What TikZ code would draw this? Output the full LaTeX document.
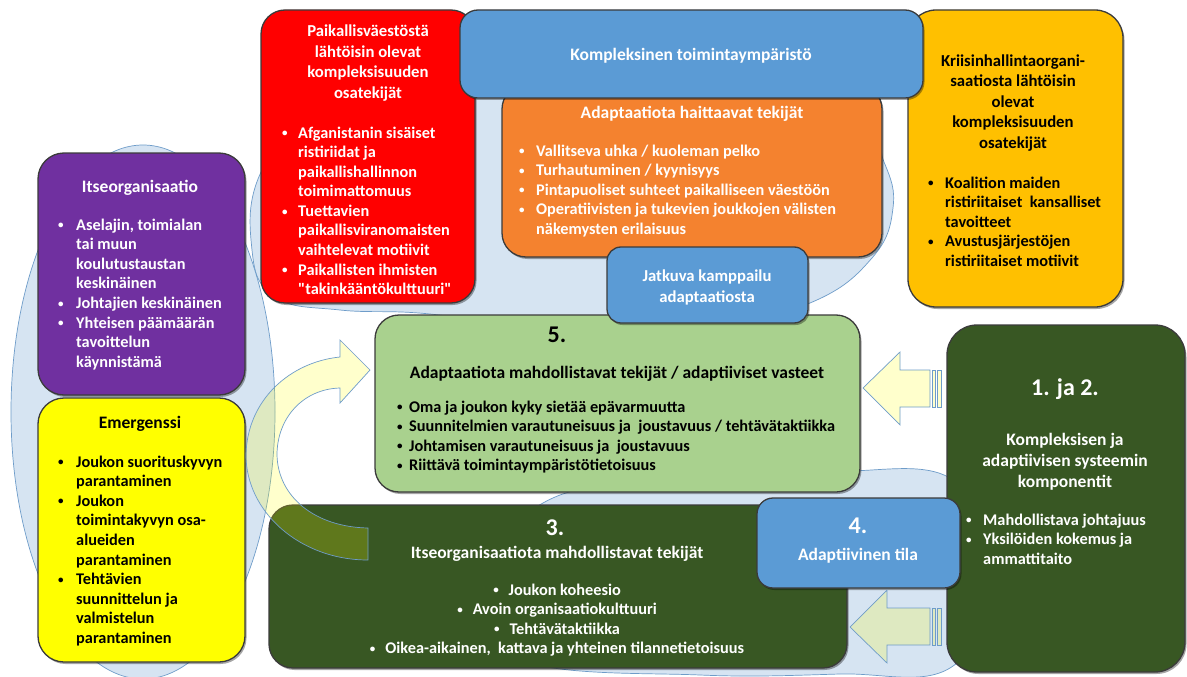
\documentclass[tikz,border=0pt]{standalone}
\usepackage{fontspec}
\setmainfont{Carlito}
\newfontfamily\nolig{Carlito}[Ligatures=ResetAll]
\usetikzlibrary{fit,shadows}
\definecolor{cred}{HTML}{FF0000}
\definecolor{cblue}{HTML}{5B9BD5}
\definecolor{corange}{HTML}{F4822F}
\definecolor{cgold}{HTML}{FFC000}
\definecolor{cpurple}{HTML}{7030A0}
\definecolor{cyellow}{HTML}{FFFF00}
\definecolor{clgreen}{HTML}{A9D18E}
\definecolor{cdgreen}{HTML}{385723}
\definecolor{cbg}{HTML}{D6E4F2}
\definecolor{cbgline}{HTML}{6E9CC9}
\definecolor{cboxline}{HTML}{3B3B3B}
\newcommand\sbul{\raisebox{1.3pt}{\fontsize{11}{11}\selectfont\textbullet}}
\newcommand\bu[1]{\makebox[#1][l]{\sbul}}
\newcommand\dq{{\nolig\char34}}
\tikzset{
  box/.style={draw=cboxline, line width=1.3pt, rounded corners=#1, inner sep=0pt,
     drop shadow={shadow xshift=1.5pt, shadow yshift=-2pt, opacity=0.35, fill=black}},
  box/.default=24pt,
  bgshape/.style={fill=cbg, draw=cbgline, line width=0.7pt},
  arrowshape/.style={fill=cyellow, fill opacity=0.2, draw=cbgline, line width=0.7pt},
  body/.style={inner sep=0pt, font=\bfseries\fontsize{16.3}{19.6}\selectfont},
  ttl/.style={inner sep=0pt, font=\bfseries\fontsize{17.5}{20.5}\selectfont},
  ttls/.style={inner sep=0pt, font=\bfseries\fontsize{16.7}{20.5}\selectfont},
  num/.style={inner sep=0pt, font=\bfseries\fontsize{24}{28}\selectfont},
}
\begin{document}
\begin{tikzpicture}[x=1pt,y=-1pt]
\useasboundingbox (0,0) rectangle (1187,677);
\fill[white] (0,0) rectangle (1187,677);
% background shapes
\draw[bgshape] plot[smooth cycle, tension=0.7] coordinates {(252,250) (275,297) (340,310) (430,314) (560,332) (700,330) (810,303) (872,258) (893,208) (884,162) (855,115) (700,40) (500,40) (330,90) (262,170)};
\draw[bgshape] plot[smooth cycle, tension=0.6] coordinates {(543,503) (620,484) (720,473) (840,471) (950,478) (1010,570) (950,668) (840,674) (700,675) (520,660) (450,580)};
\draw[bgshape] (143,412) ellipse [x radius=132pt, y radius=267pt];
% boxes
\node[box=24pt, fill=cred, fit={(261,10) (475,303)}] (red) {};
\node[box=28pt, fill=cgold, fit={(908,10) (1123,307)}] (gold) {};
\node[box=24pt, fill=corange, fit={(502,85) (882,257)}] (orange) {};
\node[box=18pt, fill=cblue, fit={(460,10) (923,98)}] (top) {};
\node[box=26pt, fill=cpurple, fit={(38,153) (245,395)}] (purple) {};
\node[box=26pt, fill=cyellow, fit={(38,398) (245,662)}] (yellow) {};
\node[box=24pt, fill=clgreen, fit={(375,315) (860,492)}] (five) {};
\node[box=14pt, fill=cblue, fit={(607,247) (808,323)}] (jatkuva) {};
\node[box=24pt, fill=cdgreen, fit={(269,505) (847,668)}] (three) {};
\node[box=30pt, fill=cdgreen, fit={(947,325) (1185,672)}] (onetwo) {};
\node[box=16pt, fill=cblue, fit={(757,498) (960,588)}] (four) {};
% arrows
\draw[arrowshape] (370,370) -- (340,340) -- (340,357) .. controls (290,362) and (247,400) .. (246,455) .. controls (246,512) and (300,560) .. (368,560) -- (368,528) .. controls (315,527) and (278,497) .. (277,455) .. controls (277,418) and (303,389) .. (340,388) -- (340,403) -- cycle;
\draw[arrowshape] (863,388) -- (900,352) -- (900,370) -- (930,370) -- (930,407) -- (900,407) -- (900,425) -- cycle;
\draw[arrowshape] (932,370) rectangle (935,407);
\draw[arrowshape] (937,370) rectangle (941,407);
\draw[arrowshape] (850,627) -- (887,590) -- (887,608) -- (930,608) -- (930,645) -- (887,645) -- (887,663) -- cycle;
\draw[arrowshape] (932,608) rectangle (935,645);
\draw[arrowshape] (937,608) rectangle (941,645);
% texts
\node[ttls, text=white, anchor=base] (redT) at (368,37) {\begin{tabular}[t]{@{}c@{}}Paikallisväestöstä\\lähtöisin olevat\\kompleksisuuden\\osatekijät\end{tabular}};
\node[body, text=white, anchor=base west] (redB) at (282,138) {\begin{tabular}[t]{@{}l@{}l@{}}\bu{16pt}&Afganistanin sisäiset\\&ristiriidat ja\\&paikallishallinnon\\&toimimattomuus\\\bu{16pt}&Tuettavien\\&paikallisviranomaisten\\&vaihtelevat motiivit\\\bu{16pt}&Paikallisten ihmisten\\&\dq takinkääntökulttuuri\dq\end{tabular}};
\node[ttl, text=white, anchor=base] (topT) at (691,60.5) {Kompleksinen toimintaympäristö};
\node[ttl, text=white, anchor=base] (orangeT) at (692,118.5) {Adaptaatiota haittaavat tekijät};
\node[body, text=white, anchor=base west] (orangeB) at (519,156) {\begin{tabular}[t]{@{}l@{}l@{}}\bu{17pt}&Vallitseva uhka / kuoleman pelko\\\bu{17pt}&Turhautuminen / kyynisyys\\\bu{17pt}&Pintapuoliset suhteet paikalliseen väestöön\\\bu{17pt}&Operatiivisten ja tukevien joukkojen välisten\\&näkemysten erilaisuus\end{tabular}};
\node[ttls, text=white, anchor=base] (jatkuvaT) at (707,281.5) {\begin{tabular}[t]{@{}c@{}}Jatkuva kamppailu\\adaptaatiosta\end{tabular}};
\node[ttls, text=black, anchor=base] (goldT) at (1013,66.5) {\begin{tabular}[t]{@{}c@{}}Kriisinhallintaorgani-\\saatiosta lähtöisin\\olevat\\kompleksisuuden\\osatekijät\end{tabular}};
\node[body, text=black, anchor=base west] (goldB) at (928,188) {\begin{tabular}[t]{@{}l@{}l@{}}\bu{17pt}&Koalition maiden\\&ristiriitaiset\ \ kansalliset\\&tavoitteet\\\bu{17pt}&Avustusjärjestöjen\\&ristiriitaiset motiivit\end{tabular}};
\node[ttl, text=white, anchor=base] (purpleT) at (140,192.5) {Itseorganisaatio};
\node[body, text=white, anchor=base west] (purpleB) at (58,230) {\begin{tabular}[t]{@{}l@{}l@{}}\bu{18pt}&Aselajin, toimialan\\&tai muun\\&koulutustaustan\\&keskinäinen\\\bu{18pt}&Johtajien keskinäinen\\\bu{18pt}&Yhteisen päämäärän\\&tavoittelun\\&käynnistämä\end{tabular}};
\node[ttl, text=black, anchor=base] (yellowT) at (140,428.5) {Emergenssi};
\node[body, text=black, anchor=base west] (yellowB) at (58,467) {\begin{tabular}[t]{@{}l@{}l@{}}\bu{18pt}&Joukon suorituskyvyn\\&parantaminen\\\bu{18pt}&Joukon\\&toimintakyvyn osa-\\&alueiden\\&parantaminen\\\bu{18pt}&Tehtävien\\&suunnittelun ja\\&valmistelun\\&parantaminen\end{tabular}};
\node[num, text=black, anchor=base] (fiveN) at (557,342) {5.};
\node[ttl, text=black, anchor=base] (fiveT) at (617,378.5) {Adaptaatiota mahdollistavat tekijät / adaptiiviset vasteet};
\node[body, text=black, anchor=base west] (fiveB) at (397,412) {\begin{tabular}[t]{@{}l@{}l@{}}\bu{12pt}&Oma ja joukon kyky sietää epävarmuutta\\\bu{12pt}&Suunnitelmien varautuneisuus ja\ \ joustavuus / tehtävätaktiikka\\\bu{12pt}&Johtamisen varautuneisuus ja\ \ joustavuus\\\bu{12pt}&Riittävä toimintaympäristötietoisuus\end{tabular}};
\node[num, text=white, anchor=base] (threeN) at (555,535) {3.};
\node[ttl, text=white, anchor=base] (threeT) at (557,558.5) {Itseorganisaatiota mahdollistavat tekijät};
\node[body, text=white, anchor=base] (threeB) at (557,595) {\begin{tabular}[t]{@{}c@{}}\sbul\hspace{10pt}Joukon koheesio\\\sbul\hspace{10pt}Avoin organisaatiokulttuuri\\\sbul\hspace{10pt}Tehtävätaktiikka\\\sbul\hspace{10pt}Oikea-aikainen,\ \ kattava ja yhteinen tilannetietoisuus\end{tabular}};
\node[num, text=white, anchor=base] (fourN) at (858,533) {4.};
\node[ttl, text=white, anchor=base] (fourT) at (858,560.5) {Adaptiivinen tila};
\node[num, text=white, anchor=base] (onetwoN) at (1065,395) {1. ja 2.};
\node[ttl, text=white, anchor=base, font=\bfseries\fontsize{17.5}{21}\selectfont] (onetwoT) at (1065,445.5) {\begin{tabular}[t]{@{}c@{}}Kompleksisen ja\\adaptiivisen systeemin\\komponentit\end{tabular}};
\node[body, text=white, anchor=base west] (onetwoB) at (966,525) {\begin{tabular}[t]{@{}l@{}l@{}}\bu{17pt}&Mahdollistava johtajuus\\\bu{17pt}&Yksilöiden kokemus ja\\&ammattitaito\end{tabular}};
\end{tikzpicture}
\end{document}
